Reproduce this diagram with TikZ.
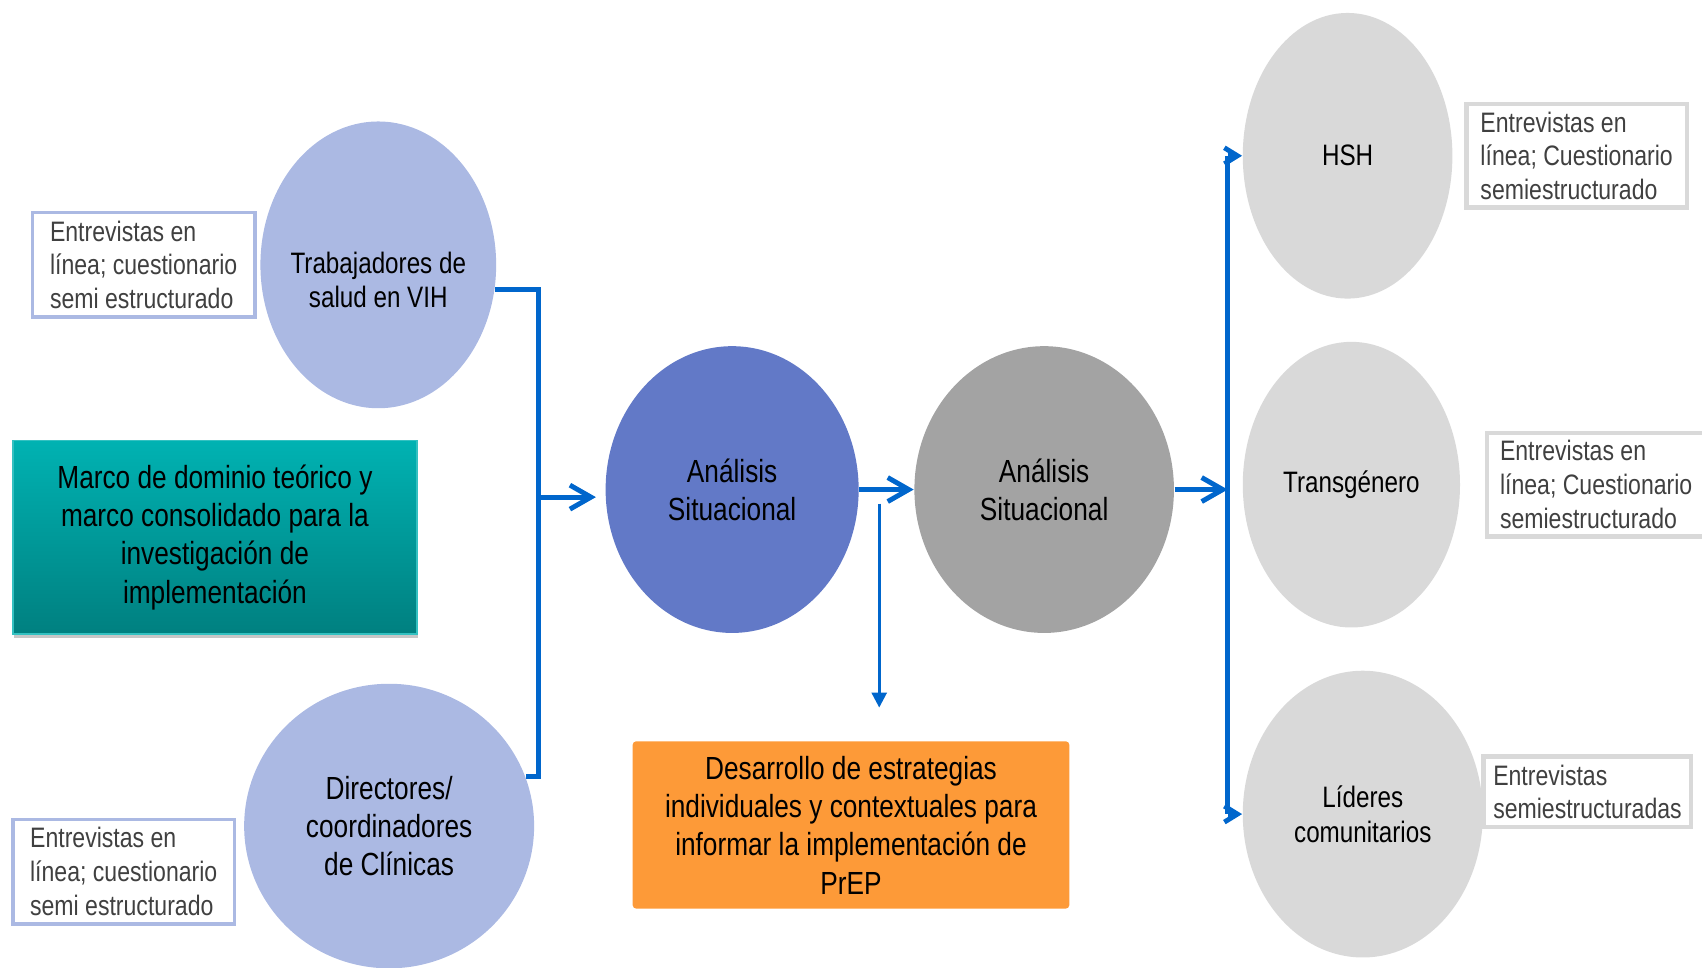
\documentclass[tikz,border=0pt]{standalone}
\usepackage{fontspec}
\setmainfont{Liberation Sans}[FakeStretch=0.82]
\usepackage{xcolor}
\usepackage{tikz}
\usetikzlibrary{calc, positioning, arrows.meta, shapes.geometric, shadows}
\definecolor{lavender}{RGB}{171,185,227}
\definecolor{bluefill}{RGB}{98,121,199}
\definecolor{midgray}{RGB}{163,163,163}
\definecolor{lightgray}{RGB}{217,217,217}
\definecolor{linkblue}{RGB}{0,102,204}
\definecolor{orangefill}{RGB}{253,154,56}
\definecolor{tealtop}{RGB}{0,178,178}
\definecolor{tealbot}{RGB}{0,128,128}
\definecolor{boxtext}{RGB}{64,64,64}
\tikzset{
    blob/.style={ellipse, draw=none, inner sep=-4pt, align=center, minimum height=2.866cm},
    txtA/.style={font=\fontsize{8.4}{9.8}\selectfont},
    txtB/.style={font=\fontsize{9.1}{10.9}\selectfont},
    worker/.style={blob, fill=lavender},
    member/.style={blob, txtA, fill=lightgray},
    analysis/.style={blob, txtB},
    method/.style={rectangle, draw=lavender, line width=1pt, fill=white, align=left, text=boxtext, font=\fontsize{8}{9.6}\selectfont, minimum width=2.225cm, minimum height=1.042cm, inner sep=2pt},
    methodR/.style={method, draw=lightgray, line width=1.3pt, minimum height=1.031cm},
    framework/.style={rectangle, draw=tealtop!80!white, line width=0.4pt, top color=tealtop, bottom color=tealbot, align=center, txtB, minimum width=4.038cm, minimum height=1.932cm, drop shadow={shadow xshift=0.015cm, shadow yshift=-0.045cm, opacity=0.22, fill=black}},
    outcome/.style={rectangle, fill=orangefill, rounded corners=1pt, align=center, txtB, minimum width=4.364cm, minimum height=1.672cm},
    link/.style={draw=linkblue, line width=1.4pt},
    flow/.style={link, -{Straight Barb[length=2.1mm, width=2.4mm]}},
    stub/.style={link, -{Straight Barb[length=1.3mm, width=1.6mm]}},
    feed/.style={draw=linkblue, line width=0.8pt, -{Triangle[length=1.5mm, width=1.5mm]}}
}

\begin{document}
\begin{tikzpicture}[x=0.010855cm, y=-0.010855cm]
    \useasboundingbox (0,0) rectangle (1568,891);

    % Health workers and clinic directors
    \node[worker, txtA, text height=24.6pt, minimum width=2.356cm] (E1) at (348.5,244) {Trabajadores de\\salud en VIH};
    \node[worker, txtB, minimum width=2.898cm, minimum height=2.844cm] (E2) at (358.5,761) {Directores/\\coordinadores\\de Clínicas};
    \node[method, left=0.03cm of E1] (L1) {Entrevistas en\\línea; cuestionario\\semi estructurado};
    \node[method, minimum width=2.214cm] (L2) at (114,803) {Entrevistas en\\línea; cuestionario\\semi estructurado};

    % Framework
    \node[framework] (M) at (198,495) {Marco de dominio teórico y\\marco consolidado para la\\investigación de\\implementación};

    % Situational analysis
    \node[analysis, fill=bluefill, minimum width=2.529cm] (A1) at (674.5,451) {Análisis\\Situacional};
    \node[analysis, fill=midgray, minimum width=2.594cm, right=0.543cm of A1] (A2) {Análisis\\Situacional};
    \node[outcome] (P) at (784,760) {Desarrollo de estrategias\\individuales y contextuales para\\informar la implementación de\\PrEP};

    % Key populations
    \node[member, minimum width=2.095cm, minimum height=2.855cm] (HSH) at (1241.5,143.5) {HSH};
    \node[member, minimum width=2.171cm, minimum height=2.855cm] (TG) at (1245,446.5) {Transgénero};
    \node[member, minimum width=2.399cm] (LC) at (1255.5,750) {Líderes\\comunitarios};
    \node[methodR, right=0.11cm of HSH, minimum width=2.204cm] (R1) {Entrevistas en\\línea; Cuestionario\\semiestructurado};
    \node[methodR, right=0.24cm of TG, minimum width=2.182cm] (R2) {Entrevistas en\\línea; Cuestionario\\semiestructurado};
    \node[methodR, minimum width=2.073cm, minimum height=0.706cm] (R3) at (1462.5,729.5) {Entrevistas\\semiestructuradas};

    % Connectors
    \coordinate (busL) at (496,458);
    \coordinate (split) at (810,464);
    \coordinate (busR) at (1131,447);
    \coordinate (e1out) at (E1.-12.7);
    \coordinate (e2out) at (E2.20.7);
    \draw[link] (e1out) -- (e1out -| busL) -- (e2out -| busL) -- (e2out);
    \draw[flow, shorten >=0.09cm] (busL) -- (busL -| A1.west);
    \draw[flow] (A1.east) -- (A2.west);
    \draw[feed, shorten >=0.33cm] (split) -- (split |- P.north);
    \draw[flow] (A2.east) -- (A2.east -| busR);
    \draw[link] (busR |- HSH.west) -- (busR |- LC.west);
    \draw[stub] (busR |- HSH.west) -- (HSH.west);
    \draw[stub] (busR |- LC.west) -- (LC.west);
\end{tikzpicture}
\end{document}
